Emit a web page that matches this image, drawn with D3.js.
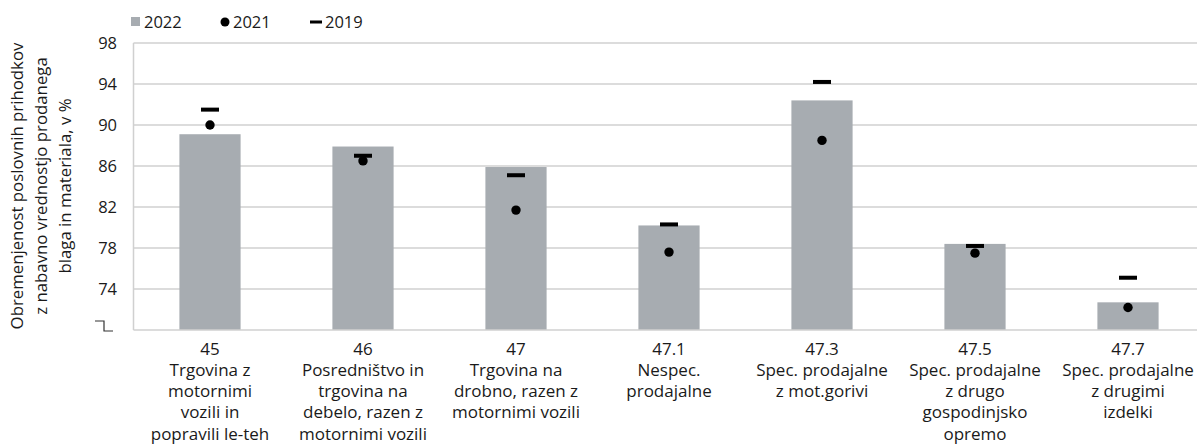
<!DOCTYPE html>
<html>
<head>
<meta charset="utf-8">
<script src="https://cdn.jsdelivr.net/npm/d3@7"></script>
<style>
  body { margin: 0; background: #fff; }
  svg { display: block; font-family: "Open Sans", sans-serif; }
</style>
</head>
<body>
<div id="chart"></div>
<script>
// categories (NACE code + name lines)
var codes = ["45", "46", "47", "47.1", "47.3", "47.5", "47.7"];
var names = [
  ["Trgovina z", "motornimi", "vozili in", "popravili le-teh"],
  ["Posredništvo in", "trgovina na", "debelo, razen z", "motornimi vozili"],
  ["Trgovina na", "drobno, razen z", "motornimi vozili"],
  ["Nespec.", "prodajalne"],
  ["Spec. prodajalne", "z mot.gorivi"],
  ["Spec. prodajalne", "z drugo", "gospodinjsko", "opremo"],
  ["Spec. prodajalne", "z drugimi", "izdelki"]
];
// series
var v2022 = [89.1, 87.9, 85.9, 80.2, 92.4, 78.4, 72.7];
var v2021 = [90.0, 86.5, 81.7, 77.6, 88.5, 77.5, 72.2];
var v2019 = [91.5, 87.0, 85.1, 80.3, 94.2, 78.2, 75.1];
var yTicks = [74, 78, 82, 86, 90, 94, 98];
var yTitle = ["Obremenjenost poslovnih prihodkov", "z nabavno vrednostjo prodanega", "blaga in materiala, v %"];
var legendItems = ["2022", "2021", "2019"];

var W = 1197, H = 444;
var pLeft = 133.5, pRight = 1204.5, pTop = 43, pBottom = 330;

var svg = d3.select("#chart").append("svg")
  .attr("width", W)
  .attr("height", H);

var x = d3.scaleBand()
  .domain(codes)
  .range([pLeft, pRight])
  .paddingInner(0.6)
  .paddingOuter(0.3);

var y = d3.scaleLinear()
  .domain([70, 98])
  .range([pBottom, pTop]);

// gridlines
svg.append("g")
  .selectAll("line")
  .data(yTicks)
  .enter().append("line")
  .attr("x1", pLeft)
  .attr("x2", pRight)
  .attr("y1", function(d) { return y(d); })
  .attr("y2", function(d) { return y(d); })
  .attr("stroke", "#d0d0d0")
  .attr("stroke-width", 1.5);

// left border
svg.append("line")
  .attr("x1", pLeft).attr("x2", pLeft)
  .attr("y1", y(98)).attr("y2", pBottom)
  .attr("stroke", "#d0d0d0").attr("stroke-width", 1.5);

// bars 2022
svg.append("g")
  .selectAll("rect")
  .data(codes)
  .enter().append("rect")
  .attr("x", function(d) { return x(d); })
  .attr("width", x.bandwidth())
  .attr("y", function(d, i) { return y(v2022[i]); })
  .attr("height", function(d, i) { return pBottom - y(v2022[i]); })
  .attr("fill", "#a7acb1");

// baseline
svg.append("line")
  .attr("x1", pLeft).attr("x2", pRight)
  .attr("y1", pBottom).attr("y2", pBottom)
  .attr("stroke", "#d0d0d0").attr("stroke-width", 1.5);

// 2019 dashes
svg.append("g")
  .selectAll("rect")
  .data(codes)
  .enter().append("rect")
  .attr("x", function(d) { return x(d) + x.bandwidth() / 2 - 9; })
  .attr("y", function(d, i) { return y(v2019[i]) - 2; })
  .attr("width", 18)
  .attr("height", 4)
  .attr("fill", "#000");

// 2021 dots
svg.append("g")
  .selectAll("circle")
  .data(codes)
  .enter().append("circle")
  .attr("cx", function(d) { return x(d) + x.bandwidth() / 2; })
  .attr("cy", function(d, i) { return y(v2021[i]); })
  .attr("r", 4.7)
  .attr("fill", "#000");

// y axis labels (no tick marks)
var yAxis = d3.axisLeft(y).tickValues(yTicks).tickSize(0).tickPadding(0);
var ya = svg.append("g")
  .attr("transform", "translate(117,0)")
  .call(yAxis);
ya.select(".domain").remove();
ya.selectAll("text")
  .attr("font-family", "'Open Sans', sans-serif")
  .attr("font-size", 16.5)
  .attr("fill", "#1a1a1a");

// axis break symbol at the bottom
svg.append("path")
  .attr("d", "M95," + (pBottom - 9) + "H104V" + (pBottom + 1) + "H113")
  .attr("fill", "none")
  .attr("stroke", "#333")
  .attr("stroke-width", 1.2);

// y title
var yt = svg.append("text")
  .attr("transform", "translate(0,186) rotate(-90)")
  .attr("text-anchor", "middle")
  .attr("font-size", 16.8)
  .attr("fill", "#1a1a1a");
yt.selectAll("tspan")
  .data(yTitle)
  .enter().append("tspan")
  .attr("x", 0)
  .attr("y", function(d, i) { return 23 + i * 23.8; })
  .text(function(d) { return d; });

// x labels
var xl = svg.append("g")
  .selectAll("text")
  .data(codes)
  .enter().append("text")
  .attr("text-anchor", "middle")
  .attr("font-size", 17)
  .attr("fill", "#1a1a1a")
  .attr("transform", function(d) { return "translate(" + (x(d) + x.bandwidth() / 2) + ",0)"; });
xl.each(function(d, i) {
  var lines = [d].concat(names[i]);
  d3.select(this).selectAll("tspan")
    .data(lines)
    .enter().append("tspan")
    .attr("x", 0)
    .attr("y", function(t, j) { return 354.5 + j * 21.3; })
    .text(function(t) { return t; });
});

// legend
var lg = svg.append("g").attr("font-size", 16.5).attr("fill", "#1a1a1a");
var lx = [131, 220, 310];
lg.append("rect").attr("x", lx[0]).attr("y", 17).attr("width", 9).attr("height", 9).attr("fill", "#a7acb1");
lg.append("circle").attr("cx", lx[1] + 5).attr("cy", 22).attr("r", 4.5).attr("fill", "#000");
lg.append("rect").attr("x", lx[2]).attr("y", 20.5).attr("width", 12).attr("height", 3).attr("fill", "#000");
lg.selectAll("text")
  .data(legendItems)
  .enter().append("text")
  .attr("x", function(d, i) { return lx[i] + (i == 2 ? 15 : 13); })
  .attr("y", 28)
  .text(function(d) { return d; });
</script>
</body>
</html>
